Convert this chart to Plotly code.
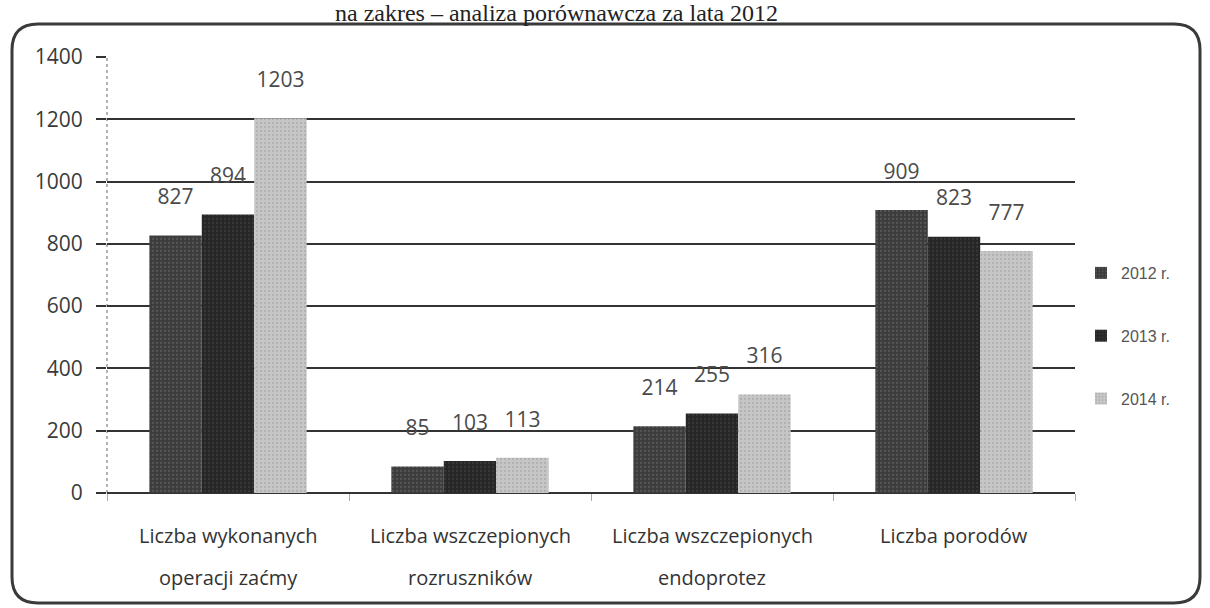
import plotly.graph_objects as go

categories = ["Liczba wykonanych operacji zaćmy", "Liczba wszczepionych rozruszników",
              "Liczba wszczepionych endoprotez", "Liczba porodów"]
label_line1 = ["Liczba wykonanych", "Liczba wszczepionych", "Liczba wszczepionych", "Liczba porodów"]
label_line2 = ["operacji zaćmy", "rozruszników", "endoprotez", ""]
series_names = ["2012 r.", "2013 r.", "2014 r."]
values_2012 = [827, 85, 214, 909]
values_2013 = [894, 103, 255, 823]
values_2014 = [1203, 113, 316, 777]
y_ticks = [0, 200, 400, 600, 800, 1000, 1200, 1400]
title_text = "na zakres – analiza porównawcza za lata 2012"

series_values = [values_2012, values_2013, values_2014]
colors = ["#3c3c3c", "#262626", "#c6c6c6"]
pattern_fg = ["#6e6e6e", "#4a4a4a", "#9a9a9a"]

FONT = "Open Sans"

fig = go.Figure()
for i, (name, vals) in enumerate(zip(series_names, series_values)):
    fig.add_trace(go.Bar(
        x=categories, y=vals, name=name,
        legendgroup=name,
        marker=dict(color=colors[i], line=dict(width=0),
                    pattern=dict(shape=".", fgcolor=pattern_fg[i], size=4, solidity=0.25)),
        text=[str(v) for v in vals],
        texttemplate="%{text}<br><span style='font-size:2px'> </span>",
        textposition="outside",
        cliponaxis=False,
        textfont=dict(family=FONT, size=21, color="#4a4a4a"),
    ))

# plot area: x 107..1075 px, y 57..493 px
L, R, T, B = 107, 1075, 57, 493
W, H = R - L, B - T

def px_x(px):
    return (px - L) / W

def px_y(py):
    return 1 - (py - T) / H

# rounded frame
x0, x1 = px_x(12), px_x(1200)
y0, y1 = px_y(603), px_y(24)
rx, ry = 26 / W, 26 / H
path = (f"M {x0+rx},{y1} L {x1-rx},{y1} Q {x1},{y1} {x1},{y1-ry} "
        f"L {x1},{y0+ry} Q {x1},{y0} {x1-rx},{y0} L {x0+rx},{y0} "
        f"Q {x0},{y0} {x0},{y0+ry} L {x0},{y1-ry} Q {x0},{y1} {x0+rx},{y1} Z")
fig.add_shape(type="path", path=path, xref="paper", yref="paper",
              line=dict(color="#3a3a3a", width=3), layer="above")
# dotted vertical axis line
fig.add_shape(type="line", x0=0, x1=0, y0=0, y1=1, xref="paper", yref="paper",
              line=dict(color="#9a9a9a", width=1.5, dash="dot"), layer="below")

annotations = []
for cat, l1, l2 in zip(categories, label_line1, label_line2):
    annotations.append(dict(x=cat, y=px_y(535), xref="x", yref="paper", text=l1,
                            showarrow=False, yanchor="middle",
                            font=dict(family=FONT, size=20, color="#333333")))
    if l2:
        annotations.append(dict(x=cat, y=px_y(577), xref="x", yref="paper", text=l2,
                                showarrow=False, yanchor="middle",
                                font=dict(family=FONT, size=20, color="#333333")))
annotations.append(dict(x=px_x(333), y=px_y(13), xref="paper", yref="paper", text=title_text,
                        showarrow=False, xanchor="left", yanchor="middle",
                        font=dict(family="Liberation Serif", size=24, color="#222222")))

fig.update_layout(
    width=1210, height=608,
    margin=dict(l=L, r=1210 - R, t=T, b=608 - B),
    paper_bgcolor="white", plot_bgcolor="white",
    barmode="group", bargap=0.35, bargroupgap=0,
    showlegend=True,
    legend=dict(x=px_x(1081), y=px_y(256), xanchor="left", yanchor="top",
                font=dict(family="Liberation Sans Narrow, Liberation Sans", size=16, color="#555555"),
                tracegroupgap=39, bgcolor="rgba(0,0,0,0)",
                itemwidth=30),
    annotations=annotations,
    font=dict(family=FONT, color="#333333"),
)
fig.update_yaxes(range=[0, 1400], tickvals=y_ticks, showgrid=True,
                 gridcolor="#333333", gridwidth=1.5,
                 ticks="outside", ticklen=10, tickcolor="#333333", tickwidth=1.5,
                 showline=False,
                 zeroline=True, zerolinecolor="#333333", zerolinewidth=1.5,
                 tickfont=dict(family=FONT, size=21, color="#3a3a3a"),
                 ticklabelstandoff=9)
fig.update_xaxes(showticklabels=False, ticks="outside", tickson="boundaries",
                 ticklen=7, tickcolor="#aaaaaa", showline=False, showgrid=False)

fig.write_html("out.html", config={"displayModeBar": False},
               post_script="document.body.style.margin='0';")
